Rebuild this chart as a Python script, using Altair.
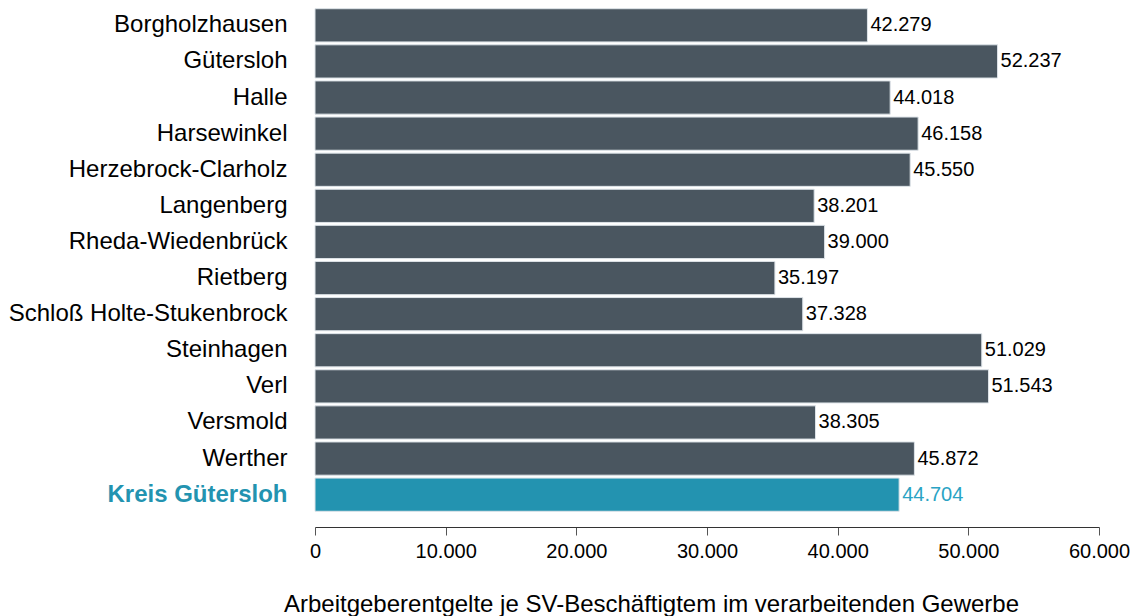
import altair as alt
import pandas as pd

orte = ["Borgholzhausen", "Gütersloh", "Halle", "Harsewinkel", "Herzebrock-Clarholz",
        "Langenberg", "Rheda-Wiedenbrück", "Rietberg", "Schloß Holte-Stukenbrock",
        "Steinhagen", "Verl", "Versmold", "Werther", "Kreis Gütersloh"]
werte = [42279, 52237, 44018, 46158, 45550, 38201, 39000, 35197, 37328,
         51029, 51543, 38305, 45872, 44704]
highlight = "Kreis Gütersloh"

df = pd.DataFrame({"ort": orte, "wert": werte})
df["label"] = df["wert"].map(lambda v: f"{v:,}".replace(",", "."))
df["hl"] = df["ort"] == highlight

DARK = "#4a5660"
TEAL = "#2393b0"
FONT = "Liberation Sans"

y = alt.Y("ort:N", sort=orte, title=None,
          scale=alt.Scale(paddingInner=0.08, paddingOuter=0.02),
          axis=alt.Axis(domain=False, ticks=False, labelPadding=28, labelFontSize=24,
                        labelFont=FONT, labelLimit=500,
                        labelColor={"expr": f"datum.value == '{highlight}' ? '{TEAL}' : 'black'"},
                        labelFontWeight={"expr": f"datum.value == '{highlight}' ? 'bold' : 'normal'"}))
x = alt.X("wert:Q", title="Arbeitgeberentgelte je SV-Beschäftigtem im verarbeitenden Gewerbe",
          scale=alt.Scale(domain=[0, 60000], nice=False),
          axis=alt.Axis(values=[0, 10000, 20000, 30000, 40000, 50000, 60000],
                        labelExpr="replace(format(datum.value, ','), ',', '.')",
                        labelFlush=False, labelOverlap=False,
                        grid=False, offset=15, tickSize=8, tickColor="#555", domainColor="#333",
                        labelFontSize=20, labelFont=FONT, labelColor="black", labelPadding=6,
                        titleFontSize=24, titleFont=FONT, titleFontWeight="normal",
                        titleColor="black", titlePadding=31, titleX=336, titleAlign="center"))

color = alt.condition("datum.hl", alt.value(TEAL), alt.value(DARK))

bars = alt.Chart(df).mark_bar(stroke="#dde3e8", strokeWidth=1).encode(y=y, x=x, color=color)
text = alt.Chart(df).mark_text(align="left", baseline="middle", dx=3, fontSize=20, font=FONT).encode(
    y=alt.Y("ort:N", sort=orte), x="wert:Q", text="label:N",
    color=alt.condition("datum.hl", alt.value("#2aa3c4"), alt.value("black")))

chart = (bars + text).properties(
    width=784, height=504,
    padding={"left": 0, "top": 0, "right": 0, "bottom": 0},
).configure_view(stroke=None)
chart.save("out.html", embed_options={"renderer": "svg", "actions": False})
